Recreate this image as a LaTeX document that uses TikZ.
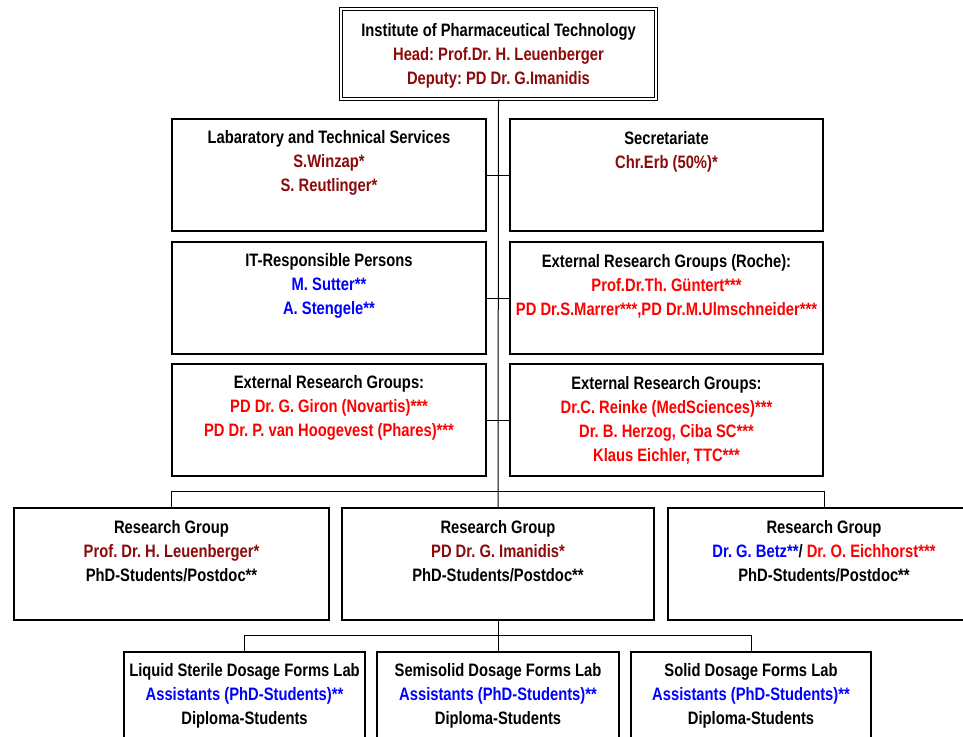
\documentclass[tikz,border=0pt]{standalone}
\usepackage{fontspec}
\setmainfont{Liberation Sans}[FakeStretch=0.82]
\usetikzlibrary{calc}
\definecolor{maroon}{RGB}{140,10,10}
\definecolor{bblue}{RGB}{0,0,255}
\definecolor{rred}{RGB}{255,0,0}
\frenchspacing
\tikzset{
  box/.style={draw=black, line width=1.3pt, rectangle, inner sep=0pt, fill=white},
  txt/.style={font=\fontsize{18}{24}\selectfont\bfseries\frenchspacing, align=center, inner sep=0pt, anchor=center},
  conn/.style={draw=black, line width=1pt}
}
\newcommand{\mr}[1]{\textcolor{maroon}{#1}}
\newcommand{\bl}[1]{\textcolor{bblue}{#1}}
\newcommand{\rd}[1]{\textcolor{rred}{#1}}
\begin{document}
\begin{tikzpicture}[x=1pt,y=-1pt]
\useasboundingbox (0,0) rectangle (963,736);
\clip (0,0) rectangle (963,736);
\fill[white] (0,0) rectangle (963,736);
% boxes
\node[box, double, double distance=1.8pt, line width=1.3pt, minimum width=315pt, minimum height=90pt] (top) at (498.5,54) {};
\node[box, minimum width=314pt, minimum height=112pt] (lab) at (329,175) {};
\node[box, minimum width=313pt, minimum height=112pt] (sec) at (666.5,175) {};
\node[box, minimum width=314pt, minimum height=112pt] (it) at (329,298) {};
\node[box, minimum width=313pt, minimum height=112pt] (roche) at (666.5,298) {};
\node[box, minimum width=314pt, minimum height=112pt] (ext1) at (329,420) {};
\node[box, minimum width=313pt, minimum height=112pt] (ext2) at (666.5,420) {};
\node[box, minimum width=315pt, minimum height=112pt] (rgL) at (171.5,564) {};
\node[box, minimum width=312pt, minimum height=112pt] (rgM) at (498,564) {};
\node[box, minimum width=312pt, minimum height=112pt] (rgR) at (824,564) {};
\node[box, minimum width=241pt, minimum height=112pt] (b1) at (244.5,708) {};
\node[box, minimum width=242pt, minimum height=112pt] (b2) at (498,708) {};
\node[box, minimum width=240pt, minimum height=112pt] (b3) at (751,708) {};
% connectors
\draw[conn] (top.south) -- (rgM.north);
\draw[conn] (lab.east) -- (sec.west);
\draw[conn] (it.east) -- (roche.west);
\draw[conn] (ext1.east) -- (ext2.west);
\draw[conn] (rgL.north) -- ++(0,-16) coordinate (busL) -| (rgR.north);
\draw[conn] (rgM.south) -- (b2.north);
\draw[conn] (b1.north) -- ++(0,-16) coordinate (busB) -| (b3.north);
% texts
\node[txt] (ttop) at ($(top.center)+(0,2)$) {Institute of Pharmaceutical Technology\\ \mr{Head: Prof.Dr. H. Leuenberger}\\ \mr{Deputy: PD Dr. G.Imanidis}};
\node[txt] (tlab) at ($(lab.north)+(0,45)$) {Labaratory and Technical Services\\ \mr{S.Winzap*}\\ \mr{S. Reutlinger*}};
\node[txt] (tsec) at ($(sec.north)+(0,33)$) {Secretariate\\ \mr{Chr.Erb (50\%)*}};
\node[txt] (tit) at ($(it.north)+(0,45)$) {IT-Responsible Persons\\ \bl{M. Sutter**}\\ \bl{A. Stengele**}};
\node[txt] (troche) at ($(roche.north)+(0,45)$) {External Research Groups (Roche):\\ \rd{Prof.Dr.Th. Güntert***}\\ \rd{PD Dr.S.Marrer***,PD Dr.M.Ulmschneider***}};
\node[txt] (text1) at ($(ext1.north)+(0,45)$) {External Research Groups:\\ \rd{PD Dr. G. Giron (Novartis)***}\\ \rd{PD Dr. P. van Hoogevest (Phares)***}};
\node[txt] (text2) at ($(ext2.north)+(0,57)$) {External Research Groups:\\ \rd{Dr.C. Reinke (MedSciences)***}\\ \rd{Dr. B. Herzog, Ciba SC***}\\ \rd{Klaus Eichler, TTC***}};
\node[txt] (trgL) at ($(rgL.north)+(0,44)$) {Research Group\\ \mr{Prof. Dr. H. Leuenberger*}\\ PhD-Students/Postdoc**};
\node[txt] (trgM) at ($(rgM.north)+(0,44)$) {Research Group\\ \mr{PD Dr. G. Imanidis*}\\ PhD-Students/Postdoc**};
\node[txt] (trgR) at ($(rgR.north)+(0,44)$) {Research Group\\ \bl{Dr. G. Betz**}/ \rd{Dr. O. Eichhorst***}\\ PhD-Students/Postdoc**};
\node[txt] (tb1) at ($(b1.north)+(0,44)$) {Liquid Sterile Dosage Forms Lab\\ \bl{Assistants (PhD-Students)**}\\ Diploma-Students};
\node[txt] (tb2) at ($(b2.north)+(0,44)$) {Semisolid Dosage Forms Lab\\ \bl{Assistants (PhD-Students)**}\\ Diploma-Students};
\node[txt] (tb3) at ($(b3.north)+(0,44)$) {Solid Dosage Forms Lab\\ \bl{Assistants (PhD-Students)**}\\ Diploma-Students};
\end{tikzpicture}
\end{document}
